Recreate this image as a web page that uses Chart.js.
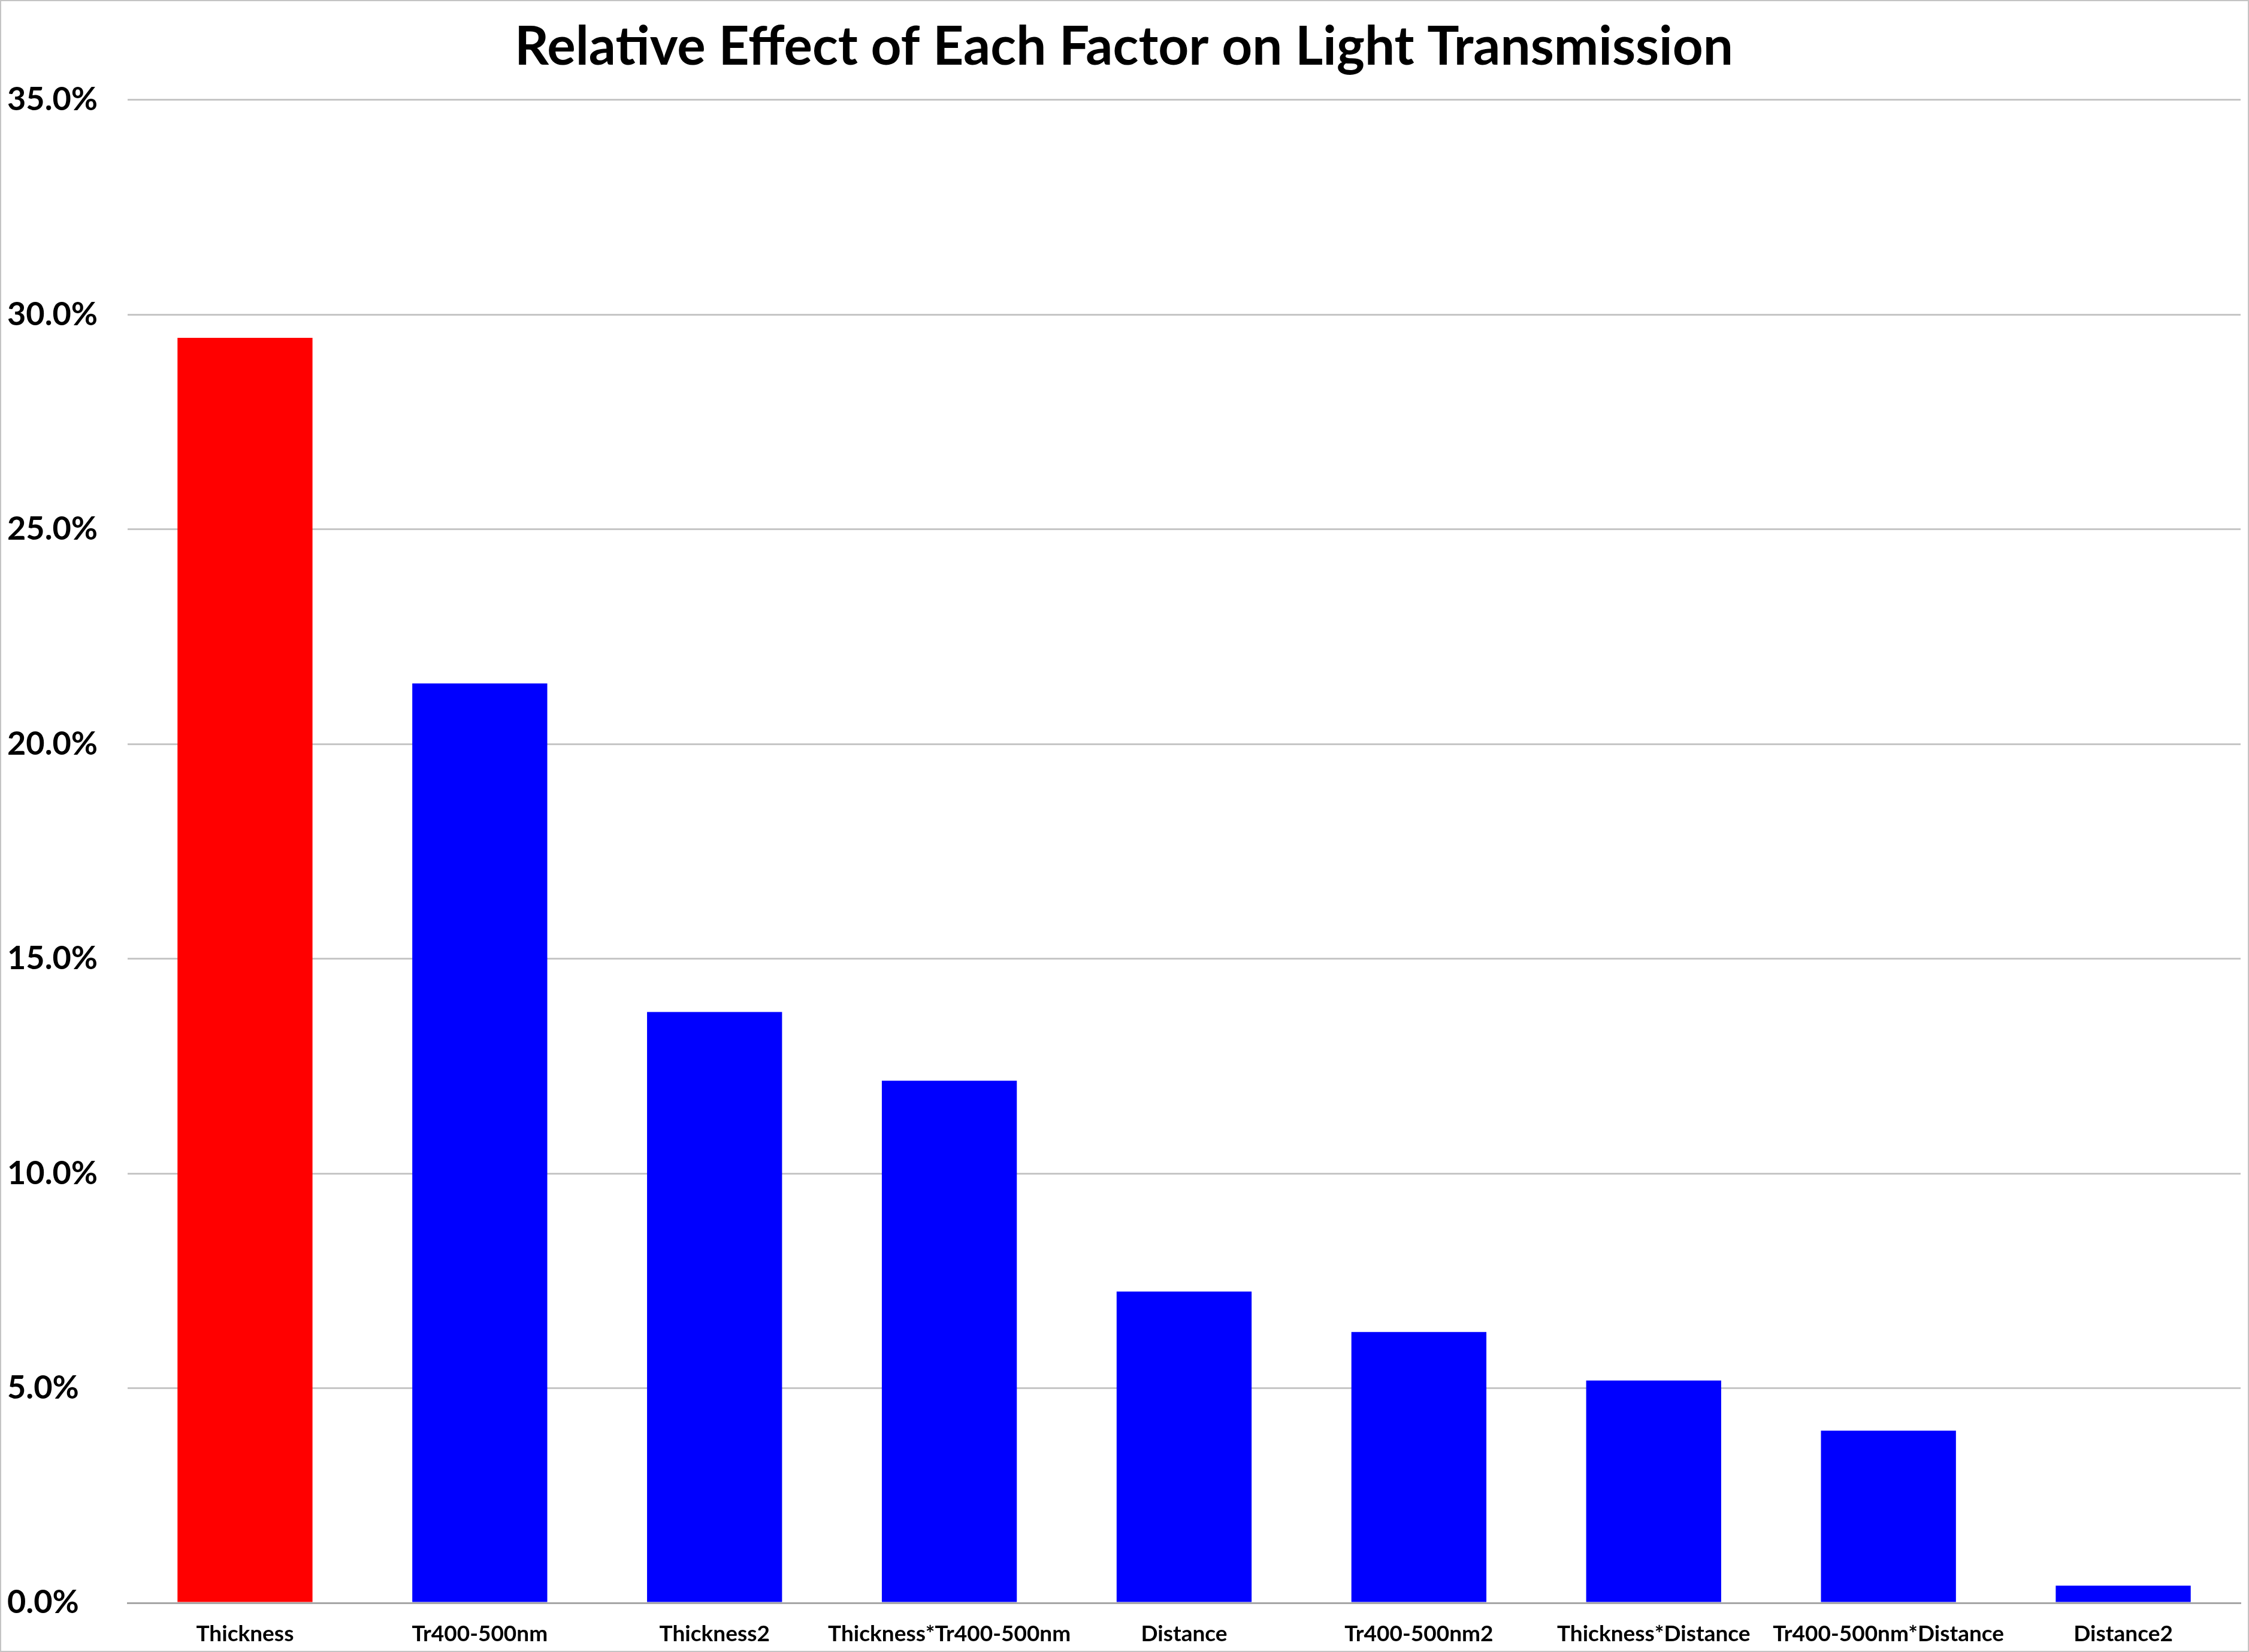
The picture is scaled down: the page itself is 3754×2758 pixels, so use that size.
<!DOCTYPE html>
<html>
<head>
<meta charset="utf-8">
<script src="https://cdn.jsdelivr.net/npm/chart.js"></script>
<style>
  html, body { margin: 0; padding: 0; background: #fff; }
  #wrap { width: 3750px; height: 2754px; border: 2px solid #c4c4c4; background: #fff; }
</style>
</head>
<body>
<div id="wrap"><canvas id="effects" width="3750" height="2754"></canvas></div>
<script>
const factors = ["Thickness", "Tr400-500nm", "Thickness2", "Thickness*Tr400-500nm", "Distance",
    "Tr400-500nm2", "Thickness*Distance", "Tr400-500nm*Distance", "Distance2"];
const effect_pct = [29.46, 21.41, 13.76, 12.16, 7.25, 6.31, 5.18, 4.01, 0.40];
const bar_colors = ["#ff0000", "#0000ff", "#0000ff", "#0000ff", "#0000ff", "#0000ff", "#0000ff", "#0000ff", "#0000ff"];
const y_ticks = [0, 5, 10, 15, 20, 25, 30, 35];

const font_family = "Lato, 'Open Sans', sans-serif";

new Chart(document.getElementById('effects').getContext('2d'), {
    type: 'bar',
    data: {
        labels: factors,
        datasets: [{
            label: "",
            data: effect_pct,
            backgroundColor: bar_colors,
            borderWidth: 0,
            categoryPercentage: 1,
            barPercentage: 0.575
        }]
    },
    options: {
        responsive: false,
        animation: false,
        devicePixelRatio: 1,
        layout: {
            padding: { left: 10, right: 12, top: 0, bottom: 0 }
        },
        scales: {
            x: {
                grid: { display: false },
                border: { display: true, color: '#a6a6a6', width: 3 },
                afterFit: (scale) => { scale.height = 80; },
                ticks: {
                    color: '#000',
                    padding: 22,
                    maxRotation: 0,
                    autoSkip: false,
                    font: { family: font_family, size: 37, weight: 'bold' }
                }
            },
            y: {
                min: y_ticks[0],
                max: y_ticks[y_ticks.length - 1],
                afterBuildTicks: (scale) => { scale.ticks = y_ticks.map(v => ({ value: v })); },
                afterFit: (scale) => { scale.width = 201; },
                grid: { color: '#c6c6c6', lineWidth: 3, drawTicks: false },
                border: { display: false },
                ticks: {
                    color: '#000',
                    crossAlign: 'far',
                    padding: 10,
                    font: { family: font_family, size: 54, weight: 'bold' },
                    callback: (v) => v.toFixed(1) + '%'
                }
            }
        },
        plugins: {
            legend: { display: false },
            tooltip: { enabled: false },
            title: {
                display: true,
                text: 'Relative Effect of Each Factor on Light Transmission',
                color: '#000',
                font: { family: font_family, size: 89, weight: 'bold', lineHeight: 1.2 },
                padding: { top: 24, bottom: 34 }
            }
        }
    }
});
</script>
</body>
</html>
